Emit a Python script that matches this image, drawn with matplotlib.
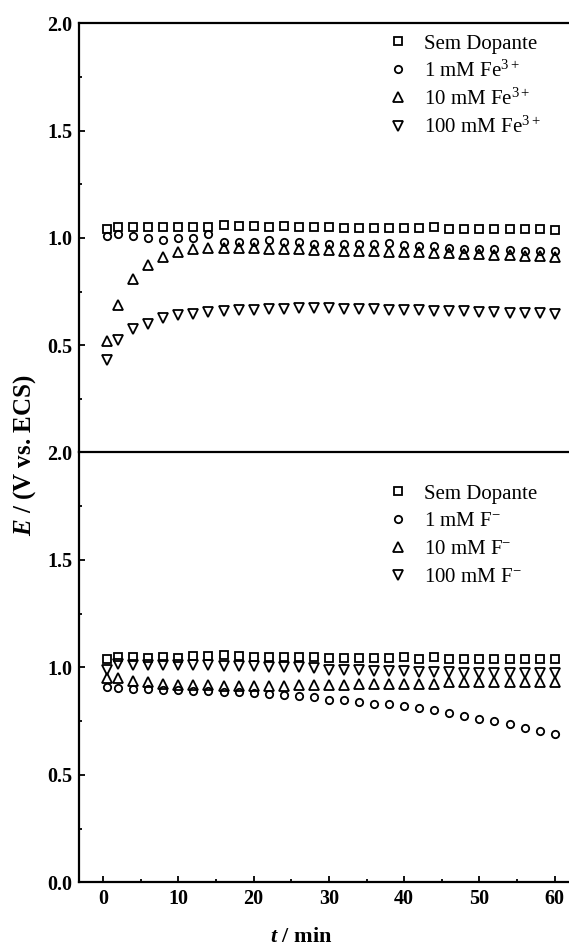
import numpy as np
import matplotlib
matplotlib.use('Agg')
from matplotlib import pyplot as plt
from matplotlib.ticker import MultipleLocator

plt.rcParams['font.family'] = ['Liberation Serif', 'DejaVu Serif']
plt.rcParams['mathtext.fontset'] = 'custom'
plt.rcParams['mathtext.rm'] = 'Liberation Serif'
plt.rcParams['mathtext.it'] = 'Liberation Serif:italic:bold'
plt.rcParams['mathtext.bf'] = 'Liberation Serif:bold'

# time (min)
t = [0.5, 2, 4, 6, 8, 10, 12, 14, 16, 18, 20, 22, 24, 26, 28, 30,
     32, 34, 36, 38, 40, 42, 44, 46, 48, 50, 52, 54, 56, 58, 60]

# Fe3+ doped series (V vs. ECS)
fe_sem = [1.04, 1.05, 1.05, 1.05, 1.05, 1.05, 1.05, 1.05, 1.06, 1.055, 1.055,
          1.05, 1.055, 1.05, 1.05, 1.05, 1.045, 1.045, 1.045, 1.045, 1.045,
          1.045, 1.05, 1.04, 1.04, 1.04, 1.04, 1.04, 1.04, 1.04, 1.035]
fe_1 = [1.01, 1.02, 1.01, 1.00, 0.99, 1.00, 1.00, 1.02, 0.98, 0.98, 0.98,
        0.99, 0.98, 0.98, 0.97, 0.97, 0.97, 0.97, 0.97, 0.975, 0.965, 0.96,
        0.96, 0.955, 0.95, 0.95, 0.95, 0.945, 0.94, 0.94, 0.94]
fe_10 = [0.52, 0.685, 0.81, 0.875, 0.91, 0.935, 0.95, 0.955, 0.955, 0.955,
         0.955, 0.95, 0.95, 0.95, 0.945, 0.945, 0.94, 0.94, 0.94, 0.935,
         0.935, 0.935, 0.93, 0.93, 0.925, 0.925, 0.92, 0.92, 0.915, 0.915, 0.91]
fe_100 = [0.43, 0.525, 0.575, 0.60, 0.625, 0.64, 0.645, 0.655, 0.66, 0.665,
          0.665, 0.67, 0.67, 0.672, 0.672, 0.672, 0.67, 0.67, 0.668, 0.665,
          0.665, 0.662, 0.66, 0.66, 0.658, 0.655, 0.655, 0.652, 0.65, 0.648, 0.645]

# F- doped series (V vs. ECS)
f_sem = [1.04, 1.05, 1.05, 1.045, 1.05, 1.045, 1.055, 1.055, 1.06, 1.055,
         1.05, 1.05, 1.05, 1.05, 1.05, 1.045, 1.045, 1.045, 1.045, 1.045,
         1.05, 1.04, 1.05, 1.04, 1.04, 1.04, 1.04, 1.04, 1.04, 1.04, 1.04]
f_1 = [0.91, 0.905, 0.90, 0.90, 0.895, 0.895, 0.89, 0.89, 0.885, 0.885, 0.88,
       0.875, 0.87, 0.865, 0.86, 0.85, 0.85, 0.84, 0.83, 0.83, 0.82, 0.81,
       0.80, 0.79, 0.775, 0.76, 0.75, 0.735, 0.72, 0.705, 0.69]
f_10 = [0.95, 0.95, 0.935, 0.93, 0.925, 0.92, 0.92, 0.92, 0.915, 0.915, 0.915,
        0.915, 0.915, 0.92, 0.92, 0.92, 0.92, 0.925, 0.925, 0.925, 0.925,
        0.925, 0.925, 0.93, 0.93, 0.93, 0.93, 0.93, 0.93, 0.93, 0.93]
f_100 = [0.99, 1.015, 1.01, 1.01, 1.01, 1.01, 1.01, 1.01, 1.005, 1.005, 1.005,
         1.0, 1.0, 1.0, 0.995, 0.99, 0.99, 0.99, 0.985, 0.985, 0.985, 0.98,
         0.98, 0.98, 0.975, 0.975, 0.975, 0.975, 0.975, 0.975, 0.975]

fe_labels = ['Sem Dopante', r'1 mM Fe$^{3+}$', r'10 mM Fe$^{3+}$', r'100 mM Fe$^{3+}$']
f_labels = ['Sem Dopante', r'1 mM F$^{-}$', r'10 mM F$^{-}$', r'100 mM F$^{-}$']

markers = ['s', 'o', '^', 'v']
sizes = [5.3, 5.3, 6.6, 6.6]

W, H = 569, 946
fig = plt.figure(figsize=(W / 100, H / 100), dpi=100)
left = 79 / W
ax_top = fig.add_axes([left, 1 - 452.5 / H, 1 - left, (452.5 - 23.3) / H])
ax_bot = fig.add_axes([left, 1 - 882.3 / H, 1 - left, (882.3 - 452.5) / H])

def draw_panel(ax, series, labels, leg_y, spacing):
    handles = []
    for ys, m, ms in zip(series, markers, sizes):
        h, = ax.plot(t, ys, ls='none', marker=m, ms=ms, mfc='none',
                     mec='k', mew=1.3, clip_on=False)
        handles.append(h)
    ax.set_xlim(-3.2, 61.9)
    ax.set_ylim(0, 2.0)
    ax.yaxis.set_major_locator(MultipleLocator(0.5))
    ax.yaxis.set_minor_locator(MultipleLocator(0.25))
    ax.xaxis.set_major_locator(MultipleLocator(10))
    ax.xaxis.set_minor_locator(MultipleLocator(5))
    ax.spines['right'].set_visible(False)
    for s in ax.spines.values():
        s.set_linewidth(1.6)
    ax.tick_params(which='major', direction='in', length=4, width=1.3,
                   labelsize=14.5, pad=5)
    ax.tick_params(which='minor', direction='in', length=2.5, width=1.3)
    for lab in ax.get_yticklabels() + ax.get_xticklabels():
        lab.set_fontweight('bold')
    ax.legend(handles, labels, loc='upper left',
              bbox_to_anchor=(388 / W, 1 - leg_y / H),
              bbox_transform=fig.transFigure, frameon=False, fontsize=15,
              handlelength=1.0, handletextpad=0.75, labelspacing=spacing,
              borderpad=0, borderaxespad=0, numpoints=1)

draw_panel(ax_top, [fe_sem, fe_1, fe_10, fe_100], fe_labels, 34, 0.33)
draw_panel(ax_bot, [f_sem, f_1, f_10, f_100], f_labels, 484, 0.40)

# top panel: no x axis, hide the 0.0 label (shared line with lower panel)
ax_top.spines['bottom'].set_visible(False)
ax_top.tick_params(axis='x', which='both', bottom=False, labelbottom=False)
ax_top.set_yticks([0, 0.5, 1.0, 1.5, 2.0])
ax_top.set_yticklabels(['', '0.5', '1.0', '1.5', '2.0'], fontweight='bold')
ax_bot.spines['top'].set_visible(True)
ax_bot.tick_params(axis='x', which='both', top=False)

ax_bot.set_xlabel(r'$\mathit{t}$ / min', fontsize=16, fontweight='bold')
ax_bot.xaxis.set_label_coords((301 - 79) / (W - 79), -(937 - 882.3) / (882.3 - 452.5))
ax_bot.xaxis.label.set_va('center')
fig.text(25 / W, 1 - 455 / H, r'$\mathit{E}$ / (V vs. ECS)', rotation=90,
         fontsize=18, fontweight='bold', ha='center', va='center')

fig.savefig('out.png', dpi=100)
